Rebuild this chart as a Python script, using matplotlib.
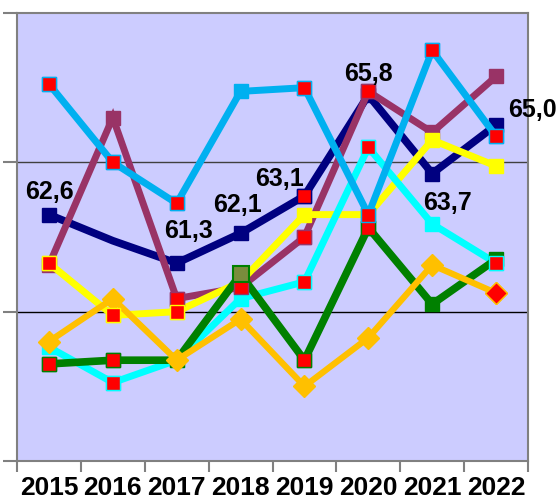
import matplotlib.pyplot as plt

years = ['2015', '2016', '2017', '2018', '2019', '2020', '2021', '2022']

navy = [62.6, 61.9, 61.3, 62.1, 63.1, 65.8, 63.7, 65.0]
maroon = [61.25, 65.2, 60.35, 60.65, 62.0, 65.9, 64.8, 66.3]
yellow = [61.3, 59.9, 60.0, 60.8, 62.6, 62.6, 64.6, 63.9]
cyan = [59.05, 58.1, 58.7, 60.35, 60.8, 64.4, 62.35, 61.3]
green = [58.6, 58.7, 58.7, 61.0, 58.7, 62.25, 60.2, 61.4]
orange = [59.2, 60.35, 58.7, 59.8, 58.0, 59.3, 61.25, 60.5]
lightblue = [66.1, 64.0, 62.9, 65.9, 66.0, 62.6, 67.0, 64.7]

# points drawn with a red marker in each series
red_navy = [4]
red_maroon = [2, 3, 4, 5]
red_yellow = [0, 1, 2]
red_cyan = [1, 4, 5, 7]
red_green = [0, 1, 4, 5]
red_orange = [7]
red_lightblue = [0, 1, 2, 4, 5, 6, 7]

# navy has no marker in 2016
navy_marked = [0, 2, 3, 4, 5, 6, 7]
all_marked = list(range(len(years)))

navy_labels = ['62,6', '', '61,3', '62,1', '63,1', '65,8', '63,7', '65,0']

series = [
    (navy, '#000080', 's', red_navy, 5.5, navy_marked),
    (maroon, '#993366', 's', red_maroon, 5, all_marked),
    (yellow, '#FFFF00', 's', red_yellow, 5, all_marked),
    (cyan, '#00FFFF', 's', red_cyan, 5, all_marked),
    (green, '#008000', 's', red_green, 5.5, all_marked),
    (orange, '#FFC000', 'D', red_orange, 4.5, all_marked),
    (lightblue, '#00B0F0', 's', red_lightblue, 5, all_marked),
]

fig = plt.figure(figsize=(5.59, 5.01), dpi=100)
ax = fig.add_axes([17 / 559, 40 / 501, 511 / 559, 448 / 501])
ax.set_facecolor('#CCCCFF')

x = list(range(len(years)))
for vals, color, marker, reds, lw, marked in series:
    ms = 10.5 if marker == 's' else 11.5
    ax.plot(x, vals, color=color, lw=lw, marker=marker, markersize=ms, markevery=marked,
            markerfacecolor=color, markeredgecolor=color, solid_joinstyle='miter', zorder=3)
    rx = [x[i] for i in reds]
    ry = [vals[i] for i in reds]
    ax.plot(rx, ry, ls='none', marker=marker, markersize=ms,
            markerfacecolor='#FF0000', markeredgecolor=color, markeredgewidth=1, zorder=4)

# olive marker on the green series in 2018
ax.plot([x[3]], [green[3]], ls='none', marker='s', markersize=11,
        markerfacecolor='#7A8C3C', markeredgecolor='#008000', markeredgewidth=1.5, zorder=5)

offsets = [(1, 23, 'center'), None, (12, 32, 'center'), (-3, 28, 'center'), (-25, 17, 'center'),
           (0, 21, 'center'), (15, -29, 'center'), (12, 15, 'left')]
for i, lab in enumerate(navy_labels):
    if not lab:
        continue
    dx, dy, ha = offsets[i]
    ax.annotate(lab, (x[i], navy[i]), xytext=(dx, dy), textcoords='offset pixels',
                ha=ha, va='center', fontsize=18, fontweight='bold', family='Liberation Sans',
                annotation_clip=False, zorder=6)

ax.set_xlim(-0.5, 7.5)
ax.set_ylim(56, 68)
ax.set_yticks([56, 60, 64, 68])
ax.set_yticklabels([])
ax.axhline(60, color='black', lw=1, zorder=2)
ax.axhline(64, color='#404040', lw=1, zorder=2)

ax.set_xticks(x)
ax.set_xticklabels(years, fontsize=19, fontweight='bold', family='Liberation Sans')
ax.set_xticks([i - 0.5 for i in range(len(years) + 1)], minor=True)
ax.tick_params(axis='x', which='major', length=0, pad=11)
ax.tick_params(axis='x', which='minor', length=8, width=1.5, color='#808080')
ax.tick_params(axis='y', length=10, width=1.5, color='#808080')

for s in ax.spines.values():
    s.set_color('#808080')
    s.set_linewidth(1.5)

fig.savefig('out.png', dpi=100)
